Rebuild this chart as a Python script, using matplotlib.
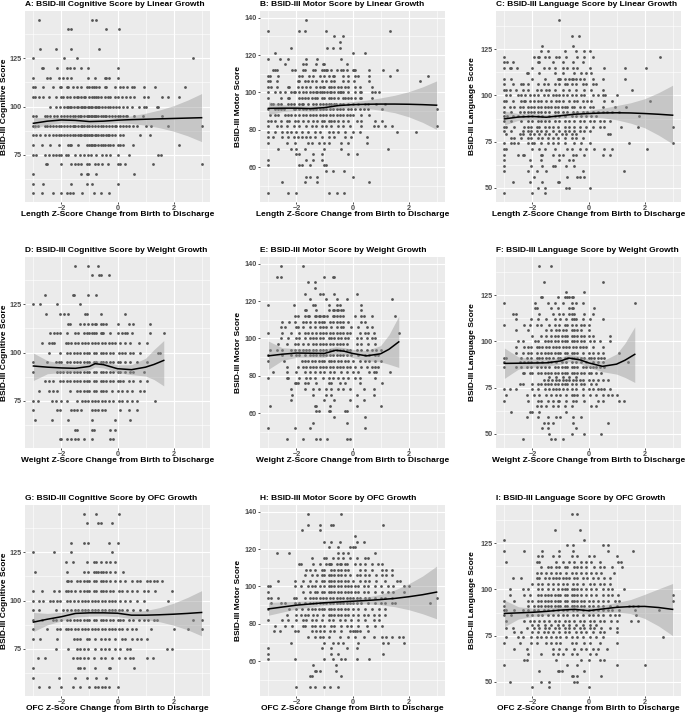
import matplotlib.pyplot as plt

plt.rcParams['font.family'] = ['Liberation Sans', 'DejaVu Sans']

# Each row list: (score, [z-score change of every child with that score])
# A: cognitive by length
A_ROWS = [
    (145, [-2.8, -0.9, -0.75]),
    (140, [-1.75, -1.65, -0.42, 0.05]),
    (130, [-2.75, -2.2, -1.65, -0.65]),
    (125, [-3.0, -1.9, -1.45, 2.7]),
    (120, [-2.7, -2.65, -2.15, -1.8, -1.7, -1.55, -1.3, -1.05, 0.0]),
    (115, [-3.0, -2.5, -2.4, -2.1, -1.95, -1.8, -1.65, -1.05, -0.8, -0.45, -0.4, -0.3, 0.0]),
    (110, [-3.0, -2.95, -2.65, -2.3, -2.05, -2.0, -1.8, -1.75, -1.6, -1.45, -1.3, -1.1, -1.0, -0.9,
           -0.85, -0.75, -0.65, -0.45, -0.4, -0.1, 0.1, 0.2, 0.35, 0.5, 0.6, 0.95, 1.35, 2.4]),
    (105, [-3.0, -2.95, -2.8, -2.65, -2.45, -2.2, -2.0, -1.95, -1.8, -1.7, -1.55, -1.45, -1.4, -1.3,
           -1.2, -1.15, -1.0, -0.9, -0.85, -0.75, -0.7, -0.6, -0.45, -0.35, -0.25, -0.1, 0.0, 0.15,
           0.3, 0.45, 0.6, 0.95, 1.1, 1.6, 1.8, 2.2]),
    (100, [-2.4, -2.2, -2.05, -1.9, -1.8, -1.75, -1.7, -1.65, -1.55, -1.45, -1.4, -1.3, -1.25, -1.2,
           -1.15, -1.05, -1.0, -0.95, -0.9, -0.8, -0.75, -0.7, -0.65, -0.55, -0.45, -0.35, -0.25,
           -0.15, -0.05, 0.05, 0.2, 0.35, 0.5, 0.75, 0.95, 1.0, 1.4, 1.45]),
    (95, [-3.0, -2.9, -2.6, -2.5, -2.4, -2.25, -2.15, -2.0, -1.9, -1.8, -1.7, -1.6, -1.5, -1.4, -1.35,
          -1.3, -1.2, -1.1, -1.05, -1.0, -0.95, -0.9, -0.85, -0.8, -0.75, -0.7, -0.6, -0.5, -0.45,
          -0.4, -0.3, -0.2, -0.1, 0.0, 0.1, 0.2, 0.3, 0.35, 0.6, 0.9, 1.6]),
    (90, [-3.0, -2.95, -2.85, -2.6, -2.5, -2.4, -2.3, -2.2, -2.1, -2.0, -1.9, -1.8, -1.7, -1.6, -1.55,
          -1.5, -1.4, -1.3, -1.25, -1.2, -1.1, -1.0, -0.9, -0.8, -0.7, -0.6, -0.5, -0.4, -0.3, -0.2,
          -0.1, -0.05, 0.1, 0.2, 0.3, 0.4, 0.55, 0.7, 1.0, 1.2, 1.8, 3.0]),
    (85, [-3.0, -2.9, -2.75, -2.6, -2.45, -2.3, -2.2, -2.1, -2.0, -1.9, -1.8, -1.7, -1.6, -1.5, -1.4,
          -1.35, -1.3, -1.2, -1.15, -1.1, -1.0, -0.95, -0.9, -0.8, -0.75, -0.7, -0.6, -0.5, -0.4,
          -0.35, -0.3, -0.2, -0.1, 0.1, 0.2, 0.8, 1.15]),
    (80, [-3.0, -2.7, -2.4, -2.1, -1.75, -1.7, -1.65, -1.4, -1.1, -1.0, -0.95, -0.9, -0.85, -0.8, -0.7,
          -0.6, -0.5, -0.45, -0.35, -0.25, -0.15, 0.0, 0.1, 0.2, 0.55, 2.2]),
    (75, [-3.0, -2.9, -2.6, -2.45, -2.3, -2.2, -2.1, -2.0, -1.85, -1.75, -1.5, -1.35, -1.2, -1.05,
          -0.95, -0.75, -0.55, -0.4, -0.25, 0.0, 0.4, 1.45, 1.55]),
    (70, [-2.55, -2.5, -2.0, -1.65, -1.5, -1.4, -1.3, -1.1, -1.0, -0.8, -0.7, -0.55, -0.35, 0.0, 0.1,
          0.25, 1.25, 3.0]),
    (65, [-3.0, -1.3, -1.1, -1.05, -0.75, 0.6]),
    (60, [-3.0, -2.65, -1.65, -1.1, -0.9, 0.0]),
    (55, [-3.0, -2.7, -2.3, -2.0, -1.8, -1.7, -1.6, -1.25, -0.85, -0.6, -0.3]),
]
A_FIT_X = [-3, -2.5, -2, -1.5, -1, -0.5, 0, 0.5, 1, 1.5, 2, 2.5, 3]
A_FIT = [91.3, 92.4, 93.0, 92.8, 92.2, 92.4, 92.9, 93.2, 93.4, 93.6, 93.8, 94.0, 94.2]
A_LO = [88.5, 90.6, 91.5, 91.3, 90.8, 91.1, 91.5, 91.2, 90.3, 89.0, 87.2, 84.8, 81.8]
A_HI = [94.2, 94.2, 94.5, 94.3, 93.6, 93.7, 94.3, 95.2, 96.5, 98.2, 100.4, 103.3, 106.7]

# B: motor by length
B_ROWS = [
    (139, [-1.65]),
    (133, [-3.0, -1.9, -1.7, -0.95, 1.35]),
    (130, [-0.65, -0.35]),
    (127, [-0.45]),
    (124, [-2.2, -0.9, -0.7, -0.45]),
    (121, [-2.75, 0.0, 0.45]),
    (118, [-3.0, -2.6, -2.3, -1.65, -1.25, -0.4]),
    (115, [-2.4, -1.75, -1.65, -1.3, -1.05, -1.0, -0.2]),
    (112, [-2.85, -2.75, -2.7, -2.15, -2.05, -1.75, -1.7, -1.4, -1.35, -1.1, -1.0, -0.95, -0.9,
           -0.75, -0.55, -0.4, -0.35, -0.2, 0.0, 0.05, 0.1, 0.6, 1.1, 1.6]),
    (109, [-3.0, -2.95, -2.65, -1.9, -1.8, -1.55, -1.4, -1.15, -1.0, -0.85, -0.7, -0.65, -0.35,
           -0.15, 0.1, 0.2, 0.6, 1.35, 2.7]),
    (106, [-3.0, -2.95, -2.7, -1.95, -1.9, -1.7, -1.6, -1.45, -1.3, -1.1, -0.95, -0.75, -0.65,
           -0.35, -0.15, 0.05, 0.6, 2.4]),
    (103, [-3.0, -2.9, -2.7, -2.3, -2.25, -1.95, -1.8, -1.65, -1.5, -1.3, -1.15, -1.05, -1.0, -0.85,
           -0.75, -0.65, -0.5, -0.4, -0.25, -0.15, 0.1, 0.25, 0.7]),
    (100, [-3.0, -2.75, -2.6, -2.4, -2.2, -2.1, -2.05, -1.9, -1.75, -1.65, -1.5, -1.4, -1.3, -1.25,
           -1.15, -1.1, -1.0, -0.9, -0.8, -0.75, -0.65, -0.5, -0.45, -0.4, -0.35, -0.15, 0.1, 0.25,
           0.3, 0.7, 0.8, 0.95]),
    (97, [-3.0, -2.55, -2.3, -2.25, -1.9, -1.8, -1.7, -1.6, -1.45, -1.35, -1.25, -1.1, -1.0, -0.85,
          -0.75, -0.65, -0.5, -0.35, -0.25, -0.15, -0.05, 0.1, 0.25, 0.3, 0.7]),
    (94, [-2.9, -2.85, -2.65, -2.55, -2.3, -2.2, -2.1, -1.9, -1.8, -1.75, -1.6, -1.4, -1.3, -1.15,
          -1.05, -0.95, -0.85, -0.75, -0.65, -0.6, -0.45, -0.35, -0.15, 0.0, 0.2, 0.45, 0.55, 0.85,
          1.15]),
    (91, [-3.0, -2.75, -2.65, -2.55, -2.45, -2.1, -2.05, -1.9, -1.75, -1.65, -1.5, -1.4, -1.3, -1.15,
          -1.05, -0.95, -0.8, -0.7, -0.55, -0.45, -0.35, -0.15, -0.05, 0.1, 0.25, 0.4, 0.55, 1.05,
          3.0]),
    (88, [-2.95, -2.75, -2.65, -2.4, -2.3, -2.2, -2.05, -1.9, -1.75, -1.65, -1.5, -1.4, -1.3, -1.15,
          -1.05, -0.95, -0.8, -0.7, -0.55, -0.45, -0.35, -0.2, -0.1, 0.0, 0.3, 0.6]),
    (85, [-3.0, -2.9, -2.75, -2.55, -2.35, -2.25, -2.05, -1.95, -1.75, -1.6, -1.4, -1.25, -1.1, -1.0,
          -0.85, -0.75, -0.65, -0.5, -0.35, -0.15, 0.15, 0.3, 0.8, 1.05]),
    (82, [-3.0, -2.7, -2.55, -2.35, -2.1, -1.9, -1.65, -1.45, -1.3, -1.1, -0.95, -0.75, -0.5, -0.35,
          -0.1, 0.3, 0.75, 0.9, 1.15, 1.4, 3.0]),
    (79, [-3.0, -2.75, -2.5, -2.35, -2.2, -2.0, -1.8, -1.6, -1.35, -1.15, -0.85, -0.7, -0.5, -0.25,
          0.0, 0.25, 1.6, 2.25]),
    (76, [-3.0, -2.85, -2.5, -2.3, -2.1, -1.95, -1.8, -1.65, -1.5, -1.35, -1.1, -0.85, -0.65, -0.25,
          -0.05, 0.5]),
    (73, [-3.0, -2.35, -2.05, -1.6, -1.45, -1.2, -1.0, -0.85, -0.4, -0.15, 0.5]),
    (70, [-2.65, -2.2, -2.0, -1.7, -1.0, -0.4, 1.25]),
    (67, [-2.0, -1.9, -1.4, -1.1, -0.15, 0.15]),
    (64, [-3.0, -1.65, -1.4, -1.1]),
    (61, [-3.0, -1.9, -1.8, -1.5, -1.0, -0.95]),
    (58, [-0.95, -0.7, -0.3]),
    (55, [-1.65, -1.5, -1.25, 0.0]),
    (52, [-2.5, -1.7, -1.25, 0.6]),
    (46, [-3.0, -2.3, -2.0, -0.85, -0.55, -0.3]),
]
B_FIT_X = [-3, -2.5, -2, -1.5, -1, -0.5, 0, 0.5, 1, 1.5, 2, 2.5, 3]
B_FIT = [91.5, 91.6, 91.6, 91.4, 91.9, 93.0, 93.5, 93.7, 93.8, 93.8, 93.7, 93.5, 93.2]
B_LO = [88.0, 89.8, 90.2, 90.0, 90.3, 91.5, 91.9, 91.5, 90.5, 89.2, 87.0, 84.0, 80.2]
B_HI = [95.0, 93.5, 93.0, 92.8, 93.5, 94.5, 95.1, 95.9, 97.1, 98.5, 100.4, 103.0, 106.2]

# C: language by length
C_ROWS = [
    (141, [-1.05]),
    (132, [-0.6, -0.35]),
    (127, [-1.65, -0.55]),
    (124, [-1.7, -1.45, -0.85, -0.45, -0.15, 0.05]),
    (121, [-3.0, -1.95, -1.8, -1.75, -1.55, -1.4, -1.15, -1.05, -0.8, -0.4, -0.15, 0.15, 2.55]),
    (118, [-3.0, -2.9, -2.7, -1.8, -1.75, -1.25, -0.9, -0.55, -0.2]),
    (115, [-3.0, -2.8, -2.75, -2.55, -2.0, -1.6, -1.4, -1.2, -0.9, -0.75, -0.55, -0.4, 0.05, 0.55,
           1.3, 2.05]),
    (112, [-2.2, -2.15, -1.75, -1.2, -0.9, -0.5, -0.25, -0.1, 0.1]),
    (109, [-3.0, -2.75, -2.0, -1.55, -1.1, -1.05, -1.0, -0.85, -0.7, -0.6, -0.55, -0.45, -0.3,
           -0.15, 0.15, 0.5, 1.3]),
    (106, [-3.0, -2.7, -2.4, -2.35, -2.15, -1.8, -1.6, -1.45, -1.2, -1.05, -0.85, -0.75, -0.6,
           -0.45, -0.2, -0.1, 0.15, 0.25]),
    (103, [-3.0, -2.95, -2.8, -2.6, -2.35, -2.15, -1.85, -1.7, -1.5, -1.4, -1.2, -0.9, -0.7, -0.45,
           -0.15, 0.1, 0.5, 1.55]),
    (100, [-2.95, -2.8, -2.5, -2.4, -2.25, -2.1, -1.95, -1.8, -1.6, -1.45, -1.25, -1.15, -1.05,
           -0.9, -0.75, -0.6, -0.45, -0.25, -0.15, 0.15, 0.35, 0.5, 0.6, 1.0]),
    (97, [-3.0, -2.95, -2.7, -2.4, -2.3, -2.25, -2.1, -1.95, -1.8, -1.7, -1.5, -1.35, -1.15, -1.05,
          -0.9, -0.7, -0.5, -0.4, -0.2, -0.05, 0.1, 0.55, 0.85, 2.2]),
    (94, [-3.0, -2.8, -2.65, -2.45, -2.35, -2.15, -2.05, -1.95, -1.8, -1.7, -1.55, -1.45, -1.35,
          -1.2, -1.1, -0.95, -0.85, -0.75, -0.6, -0.5, -0.3, -0.15, 0.05, 0.15, 0.5, 0.95, 1.35]),
    (91, [-3.0, -2.75, -2.45, -2.3, -2.15, -2.05, -1.95, -1.8, -1.7, -1.55, -1.4, -1.2, -1.1, -0.9,
          -0.75, -0.55, -0.4, -0.2, -0.05, 0.15, 0.35, 0.5, 0.65, 0.85, 1.1]),
    (89, [-3.0, -2.9, -2.7, -2.5, -2.35, -2.15, -2.0, -1.8, -1.65, -1.4, -1.2, -1.05, -0.85, -0.6,
          -0.45, -0.25, -0.1, 0.1, 0.25, 1.8]),
    (86, [-3.0, -2.75, -2.4, -2.15, -2.0, -1.8, -1.7, -1.55, -1.4, -1.2, -1.05, -0.85, -0.7, -0.5,
          -0.3, -0.15, 0.05, 0.2, 0.4, 0.55, 0.75]),
    (83, [-3.0, -2.95, -2.65, -2.3, -2.15, -2.05, -1.85, -1.75, -1.55, -1.4, -1.25, -1.1, -0.85,
          -0.7, -0.5, -0.3, -0.1, 0.15, 0.4, 0.55, 1.15, 1.75, 3.0]),
    (81, [-3.0, -2.75, -2.35, -2.15, -2.05, -1.85, -1.7, -1.5, -1.25, -1.05, -0.85, -0.7, -0.5,
          -0.3, -0.15, 0.05]),
    (79, [-2.95, -2.45, -2.35, -2.1, -1.95, -1.75, -1.55, -1.4, -1.15, -0.95, -0.8, -0.6, -0.45,
          0.7, 0.75]),
    (77, [-2.75, -2.65, -2.4, -2.15, -2.05, -1.8, -1.65, -1.45, -1.25, -1.1, -0.85, -0.6, -0.45,
          -0.2]),
    (74, [-3.0, -2.75, -2.65, -2.5, -2.15, -2.0, -1.95, -1.7, -1.45, -1.25, -1.1, -0.85, -0.5,
          -0.25, 0.05, 1.45, 3.0]),
    (71, [-3.0, -2.95, -2.0, -1.75, -1.55, -1.2, -0.75, -0.6, -0.3, -0.1, 0.2, 0.55, 0.85, 2.1]),
    (68, [-3.0, -2.5, -2.35, -2.3, -1.7, -1.65, -1.25, -1.05, -0.9, -0.55, -0.45, -0.15, 0.5, 0.75]),
    (65, [-3.0, -2.1, -1.7, -1.05, -0.7, -0.55]),
    (62, [-3.0, -2.05, -1.65, -1.25, -1.2, -0.8, -0.5]),
    (59, [-3.0, -2.15, -1.85, -1.5, -0.2, 1.25]),
    (56, [-1.95, -0.75, -0.4, -0.3, -0.15]),
    (53, [-2.7, -2.1, -1.65, -1.1, -1.05]),
    (50, [-1.8, -1.55, -0.8, -0.7, 0.05]),
    (47, [-3.0, -2.0, -1.55]),
]
C_FIT_X = [-3, -2.5, -2, -1.5, -1, -0.5, 0, 0.5, 1, 1.5, 2, 2.5, 3]
C_FIT = [87.3, 88.3, 88.6, 88.2, 89.0, 89.8, 90.2, 90.5, 90.6, 90.5, 90.2, 89.8, 89.3]
C_LO = [84.0, 86.5, 87.0, 86.7, 87.6, 88.3, 88.4, 87.9, 86.8, 85.0, 82.5, 78.5, 73.8]
C_HI = [91.5, 90.2, 90.3, 89.7, 90.5, 91.3, 92.0, 93.0, 94.5, 96.0, 98.2, 101.5, 105.5]

# D: cognitive by weight
D_ROWS = [
    (145, [-1.5, -1.05, -0.7]),
    (140, [-0.9, -0.65, -0.6, -0.3]),
    (130, [-2.6, -1.6, -1.55, -1.05, -0.75]),
    (125, [-3.0, -2.75, -2.15, -1.35]),
    (120, [-2.55, -2.05, -1.9, -1.75, -1.15, -1.1, -0.6, 0.25]),
    (115, [-1.75, -1.7, -1.35, -1.2, -1.05, -0.9, -0.8, -0.75, -0.6, -0.5, -0.4, 0.0, 0.4, 0.55,
           1.15]),
    (110, [-2.4, -2.25, -2.15, -2.05, -1.8, -1.5, -1.4, -1.2, -1.1, -1.0, -0.9, -0.85, -0.75, -0.6,
           -0.55, -0.5, -0.25, 0.0, 0.15, 0.25, 0.35, 0.5, 1.15, 1.65]),
    (105, [-2.7, -2.45, -2.35, -2.25, -1.85, -1.75, -1.65, -1.5, -1.4, -1.25, -1.15, -1.05, -0.9,
           -0.8, -0.7, -0.55, -0.45, -0.3, -0.2, -0.1, 0.1, 0.25, 0.45, 0.75, 1.05]),
    (100, [-2.45, -2.05, -1.8, -1.7, -1.55, -1.45, -1.35, -1.2, -1.1, -1.0, -0.85, -0.75, -0.6,
           -0.5, -0.4, -0.25, -0.15, 0.05, 0.15, 0.25, 0.45, 0.55, 0.8, 1.45, 1.5]),
    (95, [-3.0, -2.5, -2.2, -2.1, -2.0, -1.8, -1.7, -1.55, -1.45, -1.35, -1.2, -1.1, -1.0, -0.85,
          -0.75, -0.6, -0.5, -0.4, -0.25, -0.15, 0.0, 0.1, 0.25, 0.45, 0.7, 1.05]),
    (90, [-3.0, -2.15, -2.05, -1.95, -1.8, -1.7, -1.55, -1.45, -1.35, -1.2, -1.1, -1.0, -0.85,
          -0.75, -0.6, -0.5, -0.4, -0.25, -0.15, 0.0, 0.1, 0.25, 0.45, 0.55, 0.95]),
    (85, [-2.6, -2.45, -2.3, -2.05, -1.95, -1.8, -1.7, -1.55, -1.45, -1.35, -1.2, -1.1, -1.0, -0.85,
          -0.75, -0.6, -0.5, -0.4, -0.25, -0.15, 0.0, 0.1, 0.2, 0.4, 0.55, 0.8, 1.05]),
    (80, [-2.8, -2.45, -2.3, -2.15, -1.7, -1.45, -1.35, -1.2, -1.1, -1.0, -0.85, -0.75, -0.6, -0.5,
          -0.4, -0.2, 0.0, 0.15, 0.35, 0.5, 0.8, 0.95]),
    (75, [-3.0, -2.85, -2.35, -2.2, -2.0, -1.8, -1.45, -1.25, -1.15, -1.05, -0.9, -0.8, -0.7, -0.55,
          -0.45, -0.3, -0.15, 0.05, 0.15, 0.35, 0.5, 0.7, 1.35]),
    (70, [-3.0, -2.15, -2.05, -1.65, -1.55, -1.45, -1.3, -0.9, -0.8, -0.7, -0.55, -0.45, 0.1, 0.4,
          0.7]),
    (65, [-2.95, -2.35, -1.75, -0.9, -0.1, 0.45]),
    (60, [-1.5, -1.45, -0.9, -0.85, -0.25, -0.1]),
    (55, [-2.05, -2.0, -1.8, -1.65, -1.5, -1.4, -1.2, -0.9, -0.25, -0.15]),
]
D_FIT_X = [-3, -2.5, -2, -1.5, -1.0, -0.8, -0.5, 0, 0.5, 1.0, 1.3, 1.65]
D_FIT = [93.0, 92.4, 92.0, 91.8, 92.8, 94.2, 93.7, 91.6, 91.1, 92.4, 93.8, 95.9]
D_LO = [85.5, 89.0, 89.6, 89.9, 91.0, 92.5, 92.0, 89.6, 88.5, 87.8, 86.0, 82.7]
D_HI = [99.7, 95.8, 94.4, 93.7, 94.6, 96.0, 95.4, 93.6, 93.7, 97.0, 101.5, 106.2]

# E: motor by weight
E_ROWS = [
    (139, [-2.55, -1.75]),
    (133, [-2.7, -2.55, -1.0, -0.7, -0.65]),
    (130, [-1.6, -1.35]),
    (127, [-1.35]),
    (124, [-1.7, -1.15, -1.05, -0.65, 0.15]),
    (121, [-1.5, -0.95, -0.55, -0.2, 1.4]),
    (118, [-3.0, -2.1, -1.4, -1.35, -0.85, -0.55, -0.45, 0.3]),
    (115, [-1.7, -1.65, -1.3, -0.85, -0.7, -0.65, -0.55, -0.5, -0.4, -0.35, 0.3]),
    (112, [-2.05, -1.95, -1.7, -1.6, -1.55, -1.35, -1.3, -1.2, -1.15, -1.05, -1.0, -0.9, -0.7,
           -0.65, -0.55, -0.45, -0.35, 0.1, 0.3, 0.4, 0.7, 1.5]),
    (109, [-2.5, -2.25, -2.05, -1.75, -1.65, -1.5, -1.35, -1.2, -1.1, -1.0, -0.8, -0.7, -0.55,
           -0.45, -0.35, -0.15, 0.3, 0.45]),
    (106, [-2.55, -2.4, -2.0, -1.95, -1.75, -1.5, -1.35, -1.15, -1.05, -0.95, -0.75, -0.55, -0.4,
           -0.35, -0.05, 0.2, 0.5, 0.7]),
    (103, [-3.0, -2.5, -2.2, -1.9, -1.7, -1.6, -1.45, -1.3, -1.15, -1.05, -0.95, -0.8, -0.7, -0.55,
           -0.45, -0.35, -0.2, -0.1, 0.25, 0.45, 0.55, 0.75, 1.65]),
    (100, [-2.55, -2.3, -2.0, -1.9, -1.7, -1.5, -1.4, -1.3, -1.15, -1.05, -0.85, -0.75, -0.65, -0.5,
           -0.4, -0.25, -0.15, 0.15, 0.3, 0.5, 0.7, 0.8]),
    (97, [-2.65, -2.35, -2.05, -1.95, -1.75, -1.6, -1.4, -1.3, -1.15, -1.05, -0.95, -0.8, -0.7,
          -0.55, -0.45, -0.35, -0.2, 0.15, 0.3, 0.55, 0.8]),
    (94, [-2.95, -2.7, -2.5, -2.2, -2.05, -1.9, -1.75, -1.65, -1.55, -1.4, -1.3, -1.15, -1.05, -0.95,
          -0.8, -0.7, -0.55, -0.45, -0.35, -0.2, -0.1, 0.15, 0.3, 0.5, 0.7, 0.85, 1.0]),
    (91, [-3.0, -2.5, -2.2, -2.0, -1.9, -1.7, -1.5, -1.4, -1.3, -1.15, -1.05, -0.95, -0.8, -0.7,
          -0.55, -0.45, -0.35, -0.2, -0.05, 0.2, 0.45, 0.6, 0.8, 0.9]),
    (88, [-3.0, -2.45, -1.8, -1.7, -1.6, -1.45, -1.35, -1.2, -1.1, -1.0, -0.85, -0.75, -0.65, -0.5,
          -0.4, -0.25, -0.15, 0.0, 0.25, 0.45, 0.6, 0.8, 1.0]),
    (85, [-2.35, -1.95, -1.75, -1.65, -1.5, -1.4, -1.3, -1.15, -1.05, -0.95, -0.8, -0.7, -0.55,
          -0.45, -0.35, -0.2, -0.1, 0.1, 0.3, 0.5, 0.7, 0.8, 0.9]),
    (82, [-2.85, -2.35, -2.0, -1.7, -1.5, -1.35, -1.15, -1.0, -0.8, -0.65, -0.4, -0.2, 0.0, 0.2,
          0.6, 0.75, 0.85, 1.35]),
    (79, [-3.0, -2.35, -2.3, -1.9, -1.65, -1.5, -1.35, -1.05, -0.85, -0.7, -0.5, -0.35, -0.15, 0.1,
          0.25, 0.8]),
    (76, [-2.05, -2.0, -1.95, -1.7, -1.6, -1.3, -0.85, -0.75, -0.45, -0.25, 0.25, 1.05]),
    (73, [-2.2, -1.7, -1.4, -1.2, -0.95, -0.75, -0.5, -0.35, -0.1, 0.4, 0.75]),
    (70, [-2.15, -1.4, -0.95, -0.75, 0.15, 0.75]),
    (67, [-2.2, -1.0, -0.65, -0.1, 0.4]),
    (64, [-2.95, -1.35, -1.3, -0.8, 0.15, 1.0]),
    (61, [-1.3, -1.2, -0.85, -0.8, -0.25, -0.2]),
    (58, [-0.65, 0.45]),
    (55, [-1.4, -0.2]),
    (52, [-3.0, -2.05, -1.5, 0.45]),
    (46, [-2.35, -1.75, -1.3, -1.15, -0.9, -0.2, -0.1]),
]
E_FIT_X = [-3, -2.5, -2, -1.5, -1.0, -0.6, -0.3, 0, 0.5, 1.0, 1.3, 1.65]
E_FIT = [90.7, 91.6, 92.2, 92.1, 92.0, 93.7, 93.2, 92.0, 90.7, 91.8, 94.2, 98.2]
E_LO = [83.5, 88.3, 89.9, 90.0, 89.9, 91.8, 91.3, 89.8, 88.0, 87.5, 86.2, 84.5]
E_HI = [98.6, 95.0, 94.6, 94.3, 94.2, 95.6, 95.1, 94.2, 93.5, 96.2, 102.0, 111.9]

# F: language by weight
F_ROWS = [
    (141, [-1.75, -1.35]),
    (132, [-1.6, 0.5]),
    (127, [-0.8, -0.15]),
    (124, [-1.7, -1.65, -1.1, -0.85, -0.75, -0.7, -0.6, -0.55]),
    (121, [-3.0, -1.9, -1.45, -1.2, -0.9, -0.6, -0.45, -0.2, 1.65]),
    (118, [-1.9, -1.85, -1.35, -1.1, -0.7, -0.6, -0.55, 0.2]),
    (115, [-2.7, -2.6, -1.75, -1.25, -1.05, -0.9, -0.7, -0.6, -0.5, -0.15, 0.15]),
    (112, [-2.6, -2.05, -1.8, -1.5, -1.2, -1.0, -0.8, -0.6, -0.5, -0.45, -0.2, 0.05, 0.5]),
    (109, [-3.0, -2.3, -2.1, -1.85, -1.7, -1.4, -1.2, -1.05, -0.85, -0.75, -0.6, -0.45, -0.25,
           -0.15, 0.0]),
    (106, [-2.6, -2.15, -1.5, -1.35, -1.15, -1.05, -0.9, -0.8, -0.6, -0.5, -0.4, -0.25, 0.0]),
    (103, [-2.0, -1.7, -1.5, -1.35, -1.2, -1.1, -0.95, -0.85, -0.75, -0.6, -0.5, -0.4, -0.25, -0.15,
           0.0, 0.15, 0.75]),
    (100, [-2.5, -2.35, -1.9, -1.8, -1.55, -1.45, -1.35, -1.2, -1.1, -0.95, -0.85, -0.75, -0.6,
           -0.5, -0.4, -0.25, -0.15, 0.05, 0.2, 0.4, 0.75]),
    (97, [-2.6, -2.3, -2.15, -2.05, -1.85, -1.75, -1.65, -1.5, -1.4, -1.25, -1.15, -1.05, -0.9,
          -0.8, -0.7, -0.55, -0.45, -0.3, -0.2, -0.1, 0.15, 0.5]),
    (94, [-2.6, -2.35, -2.15, -2.05, -1.85, -1.7, -1.55, -1.45, -1.35, -1.2, -1.1, -1.0, -0.85,
          -0.75, -0.6, -0.5, -0.4, -0.2, 0.0, 0.15, 0.35, 0.5, 1.1]),
    (91, [-3.0, -2.95, -2.4, -2.2, -2.05, -1.85, -1.75, -1.65, -1.5, -1.4, -1.25, -1.1, -1.0, -0.85,
          -0.75, -0.6, -0.5, -0.4, -0.25, -0.15, 0.0, 0.1, 0.2, 0.35, 0.45, 0.55]),
    (89, [-3.0, -2.45, -2.3, -2.15, -2.05, -1.85, -1.65, -1.45, -1.35, -1.15, -0.95, -0.8, -0.6,
          -0.45, -0.25, -0.1, 0.15, 0.35, 0.5, 1.4]),
    (86, [-3.0, -2.6, -2.4, -2.2, -2.05, -1.85, -1.7, -1.55, -1.4, -1.2, -1.1, -0.95, -0.85, -0.75,
          -0.6, -0.5, -0.4, -0.2, -0.1, 0.05, 0.15, 0.25, 0.4, 0.55]),
    (83, [-2.35, -2.3, -2.1, -2.0, -1.8, -1.7, -1.55, -1.45, -1.35, -1.2, -1.1, -0.95, -0.85, -0.75,
          -0.6, -0.5, -0.4, -0.25, -0.15, 0.0, 0.1, 0.25, 0.45]),
    (81, [-1.4, -1.15, -0.9, -0.7, -0.45]),
    (79, [-1.6, -1.45, -1.3, -1.15, -1.05, -0.9, -0.8, -0.7, -0.55, -0.45, -0.3, -0.2, 0.0, 0.15,
          0.35, 0.5, 0.7]),
    (77, [-2.45, -2.35, -2.0, -1.8, -1.7, -1.55, -1.45, -1.35, -1.2, -1.1, -0.95, -0.85, -0.75,
          -0.6, -0.45, -0.25, -0.15, 0.1, 0.25]),
    (74, [-3.0, -2.8, -2.6, -2.0, -1.8, -1.55, -1.4, -1.25, -1.15, -1.05, -0.9, -0.75, -0.6, -0.45,
          -0.2, 0.0, 0.15, 0.35, 0.45, 0.55, 0.75]),
    (71, [-2.95, -2.2, -1.95, -1.75, -1.5, -1.35, -1.15, -1.0, -0.8, -0.6, -0.5, -0.4, -0.2, 0.05,
          0.25, 0.5, 0.7, 0.85, 1.0]),
    (68, [-3.0, -2.15, -1.8, -1.7, -1.45, -1.25, -1.1, -1.05, -0.8, -0.55, -0.45, -0.15, 0.35, 0.5,
          1.1, 1.25]),
    (65, [-1.85, -1.7, -1.5, -1.25, -1.1, -0.85, -0.6, 0.1, 0.25]),
    (62, [-2.75, -2.1, -2.0, -1.75, -0.8]),
    (59, [-2.2, -1.8, -1.45, -1.15, -1.0, -0.55, -0.25]),
    (56, [-1.6, -1.45, -1.25, -0.55, 0.7]),
    (53, [-1.65, -1.45, -0.45]),
    (50, [-1.4, -0.6, -0.15, 0.45]),
    (47, [-2.35, -1.35, -1.2, -0.9]),
]
F_FIT_X = [-3, -2.5, -2, -1.5, -1.0, -0.7, -0.3, 0, 0.5, 1.0, 1.3, 1.65]
F_FIT = [88.1, 88.2, 88.3, 88.4, 89.4, 91.0, 90.0, 88.4, 86.5, 87.7, 89.8, 93.0]
F_LO = [80.0, 85.0, 86.0, 86.6, 87.6, 89.0, 88.0, 86.0, 83.6, 82.3, 80.5, 77.8]
F_HI = [96.4, 91.6, 90.6, 90.3, 91.3, 93.1, 92.0, 90.6, 89.4, 93.2, 99.0, 107.9]

# G: cognitive by OFC
G_ROWS = [
    (145, [-1.2, -0.75, 0.05]),
    (140, [-1.1, -0.7, -0.6, -0.2]),
    (130, [-1.65, -1.2, -1.05, -0.3, 0.0]),
    (125, [-3.0, -2.25, -1.65, -0.2]),
    (120, [-1.85, -1.6, -1.1, -0.85, -0.75, -0.6, -0.4, -0.25, -0.1]),
    (115, [-2.95, -1.8, -1.2, -1.05, -0.85, -0.75, -0.7, -0.6, -0.5, -0.4, -0.25, -0.1, 0.2]),
    (110, [-1.8, -1.75, -1.65, -1.45, -1.35, -1.2, -1.1, -1.0, -0.85, -0.75, -0.6, -0.5, -0.4,
           -0.25, -0.1, 0.1, 0.25, 0.5, 0.7, 0.8, 1.05, 1.15, 1.3, 1.4, 1.6]),
    (105, [-3.0, -2.7, -2.25, -2.1, -1.85, -1.75, -1.65, -1.5, -1.35, -1.2, -1.1, -1.0, -0.85,
           -0.75, -0.6, -0.5, -0.4, -0.25, -0.15, 0.05, 0.15, 0.35, 0.5, 0.7, 0.95, 1.1, 1.35, 1.95]),
    (100, [-3.0, -2.8, -2.65, -2.4, -2.3, -2.15, -2.05, -1.8, -1.7, -1.55, -1.4, -1.25, -1.15,
           -1.05, -0.9, -0.8, -0.7, -0.55, -0.45, -0.3, -0.2, -0.1, 0.1, 0.25, 0.45, 0.7, 0.95, 1.8]),
    (95, [-3.0, -2.8, -2.2, -1.95, -1.8, -1.65, -1.5, -1.4, -1.25, -1.15, -1.05, -0.9, -0.8, -0.7,
          -0.55, -0.45, -0.3, -0.2, -0.1, 0.05, 0.15, 0.35, 0.55, 0.8, 1.05]),
    (90, [-3.0, -2.7, -2.3, -2.2, -2.0, -1.8, -1.7, -1.55, -1.45, -1.35, -1.2, -1.1, -1.0, -0.85,
          -0.75, -0.6, -0.5, -0.4, -0.25, -0.15, 0.0, 0.1, 0.2, 0.4, 0.55, 0.75, 0.95, 1.1, 1.3,
          1.4, 2.7, 3.0]),
    (85, [-3.0, -2.5, -2.15, -2.05, -1.85, -1.75, -1.65, -1.5, -1.4, -1.25, -1.15, -1.05, -0.9,
          -0.8, -0.7, -0.55, -0.45, -0.3, -0.2, -0.1, 0.05, 0.15, 0.35, 0.5, 0.65, 1.2, 2.0, 2.5,
          3.0]),
    (80, [-3.0, -2.75, -2.15, -1.55, -1.45, -1.35, -1.1, -1.0, -0.8, -0.6, -0.45, -0.3, -0.1, 0.15,
          0.25, 0.5, 0.7, 0.85, 1.05]),
    (75, [-2.2, -1.75, -1.45, -1.35, -1.2, -1.05, -0.8, -0.6, -0.45, -0.3, -0.1, 0.1, 0.35, 0.45,
          1.75, 1.95]),
    (70, [-2.85, -2.6, -1.6, -1.45, -1.35, -1.2, -1.05, -0.85, -0.6, -0.45, -0.2, 0.05, 0.25, 0.45,
          0.55, 1.05, 1.25]),
    (65, [-3.0, -1.4, -1.35, -1.2, -0.8, -0.3, -0.25, 0.6]),
    (60, [-3.0, -2.1, -1.5, -1.1, -0.75, -0.4]),
    (55, [-2.8, -2.45, -2.0, -1.6, -1.35, -1.0, -0.8, -0.7, -0.55, -0.45, -0.3, 0.0]),
]
G_FIT_X = [-3, -2.5, -2, -1.5, -1.0, -0.5, 0, 0.5, 1, 1.5, 2, 2.5, 3]
G_FIT = [88.8, 90.3, 91.6, 93.3, 93.6, 93.6, 93.4, 92.4, 92.4, 92.6, 92.9, 93.3, 93.8]
G_LO = [83.9, 87.4, 89.4, 91.4, 91.9, 92.0, 91.6, 90.6, 90.1, 89.0, 87.2, 84.8, 81.7]
G_HI = [93.8, 93.3, 93.9, 95.2, 95.3, 95.2, 95.2, 94.3, 94.8, 96.3, 98.6, 101.6, 105.1]

# H: motor by OFC
H_ROWS = [
    (139, [-1.6, -0.4]),
    (133, [-1.6, -1.15, -0.75, -0.7, 1.1]),
    (130, [-1.8, -1.15]),
    (127, [0.1]),
    (124, [-1.0, -0.75, -0.45, 0.15, 0.4]),
    (121, [-0.85, -0.5, -0.1, 0.0, 0.1]),
    (118, [-2.7, -2.25, -0.5, -0.35, -0.15, 0.8]),
    (115, [-1.45, -1.0, -0.95, -0.7, -0.5, -0.35, -0.1, 0.15, 0.45, 0.55]),
    (112, [-1.9, -1.85, -1.4, -1.15, -0.95, -0.85, -0.8, -0.75, -0.55, -0.45, -0.4, -0.25, -0.2,
           0.1, 0.25, 0.45, 0.7, 0.9, 1.05]),
    (109, [-1.65, -1.5, -1.35, -1.1, -1.0, -0.75, -0.65, -0.5, -0.4, -0.25, -0.15, 0.25, 0.45, 0.7,
           1.05, 1.2, 1.4]),
    (106, [-1.7, -1.45, -1.25, -1.1, -1.0, -0.85, -0.75, -0.65, -0.5, -0.4, -0.25, -0.1, 0.15, 0.25,
           0.45, 0.6, 0.85, 1.05, 1.2, 1.4]),
    (103, [-2.65, -2.05, -1.75, -1.5, -1.3, -1.1, -1.0, -0.85, -0.75, -0.65, -0.5, -0.4, -0.25,
           -0.15, 0.0, 0.25, 0.45, 0.6, 0.85, 1.15, 1.6, 1.7]),
    (100, [-3.0, -2.95, -2.05, -1.85, -1.6, -1.45, -1.35, -1.15, -1.0, -0.85, -0.75, -0.65, -0.5,
           -0.4, -0.25, -0.15, -0.05, 0.1, 0.2, 0.4, 0.55, 0.8, 1.0, 1.25, 1.45, 1.85, 2.0]),
    (97, [-3.0, -1.75, -1.5, -1.35, -1.25, -1.1, -1.0, -0.85, -0.75, -0.65, -0.5, -0.4, -0.25,
          -0.15, -0.05, 0.1, 0.2, 0.4, 0.55, 0.8, 1.05, 1.25, 1.45, 1.85]),
    (94, [-3.0, -2.9, -2.65, -2.1, -2.0, -1.7, -1.5, -1.4, -1.3, -1.15, -1.05, -0.95, -0.8, -0.7,
          -0.55, -0.45, -0.35, -0.2, -0.1, 0.0, 0.15, 0.25, 0.45, 0.6, 0.8, 1.0, 1.15, 1.4, 3.0]),
    (91, [-2.9, -2.55, -2.4, -2.05, -1.9, -1.7, -1.5, -1.4, -1.3, -1.15, -1.05, -0.95, -0.8, -0.7,
          -0.55, -0.45, -0.35, -0.2, -0.1, 0.0, 0.15, 0.3, 0.55, 0.8, 1.0, 1.15, 1.4, 1.5, 2.75]),
    (88, [-3.0, -2.25, -2.0, -1.8, -1.6, -1.45, -1.35, -1.2, -1.1, -1.0, -0.85, -0.75, -0.65, -0.5,
          -0.4, -0.25, -0.15, 0.0, 0.2, 0.45, 0.7, 0.95, 1.15]),
    (85, [-2.35, -2.0, -1.85, -1.7, -1.6, -1.4, -1.25, -1.05, -0.85, -0.75, -0.65, -0.5, -0.4,
          -0.25, -0.15, 0.0, 0.2, 0.4, 0.55, 0.75, 0.95, 1.15]),
    (82, [-3.0, -2.5, -2.3, -2.0, -1.75, -1.65, -1.45, -1.3, -1.1, -0.85, -0.7, -0.45, -0.25, -0.05,
          0.2, 0.45, 0.75, 0.95]),
    (79, [-2.75, -2.4, -2.15, -1.75, -1.7, -1.45, -1.35, -1.15, -1.0, -0.75, -0.65, -0.4, -0.2,
          -0.05, 0.2, 0.5, 0.8, 1.05]),
    (76, [-2.8, -2.6, -2.05, -1.95, -1.45, -1.3, -1.15, -1.0, -0.8, -0.65, -0.4, -0.1, 0.0, 0.1,
          0.15, 0.25, 0.55]),
    (73, [-1.6, -1.35, -1.15, -1.05, -0.85, -0.45, -0.15, 0.1, 0.4, 0.75, 1.05, 1.2, 1.4, 1.65,
          1.8]),
    (70, [-2.2, -1.0, -0.7, -0.5, -0.35, 0.2, 1.1, 1.25, 1.85]),
    (67, [-3.0, -1.1, -0.75, -0.2, 0.15]),
    (64, [-3.0, -0.75, -0.5, 1.1]),
    (61, [-3.0, -2.05, -1.0, -0.7, -0.4, -0.25, 0.15, 0.6]),
    (58, [-1.4, -0.6]),
    (55, [-1.35, -1.3, -1.15, -0.6]),
    (52, [-1.5, -1.45, -0.4]),
    (46, [-2.0, -1.5, -1.35, -1.0, -0.8, -0.5]),
]
H_FIT_X = [-3, -2, -1, 0, 0.5, 1, 1.5, 2, 2.5, 3]
H_FIT = [88.0, 90.0, 91.3, 92.1, 92.5, 93.0, 93.6, 94.5, 95.6, 97.0]
H_LO = [84.6, 88.0, 89.9, 90.7, 90.7, 90.2, 89.2, 87.6, 85.4, 82.7]
H_HI = [91.5, 92.0, 92.7, 93.5, 94.3, 95.8, 98.1, 101.4, 105.6, 110.9]

# I: language by OFC
I_ROWS = [
    (141, [-0.6, -0.4]),
    (132, [-1.2, -0.3]),
    (127, [-3.0, -0.15]),
    (124, [-0.75, -0.55, 0.5, 0.7]),
    (121, [-3.0, -2.3, -1.65, -1.05, -0.55, 0.7, 1.6]),
    (118, [-1.8, -1.65, -1.25, -1.05, -0.6, -0.4, 0.0, 0.2, 1.0]),
    (115, [-2.95, -1.85, -1.75, -1.15, -0.9, -0.7, -0.5, -0.25, -0.1, 0.1, 0.4, 1.05, 1.15]),
    (112, [-1.7, -1.45, -1.35, -1.15, -1.05, -0.85, -0.75, -0.5, -0.4, -0.25, -0.1, 0.2, 0.4, 0.55,
           0.85, 1.2]),
    (109, [-1.85, -1.7, -1.5, -1.35, -1.15, -1.0, -0.8, -0.6, -0.45, -0.25, -0.1, 0.1, 0.25, 0.45,
           0.9]),
    (106, [-2.7, -2.4, -1.85, -1.75, -1.55, -1.4, -1.25, -1.15, -1.05, -0.9, -0.8, -0.7, -0.5, -0.4,
           -0.2, -0.05, 0.15, 0.35, 0.55, 0.75]),
    (103, [-2.0, -1.8, -1.65, -1.45, -1.25, -1.1, -0.9, -0.75, -0.55, -0.4, -0.2, 0.05, 0.2, 0.4,
           0.55, 0.75]),
    (100, [-2.8, -2.35, -2.15, -1.8, -1.65, -1.45, -1.25, -1.1, -0.95, -0.85, -0.75, -0.6, -0.5,
           -0.4, -0.25, -0.1, 0.1, 0.25, 0.5, 0.7, 0.85, 1.25]),
    (97, [-2.8, -2.3, -2.1, -1.8, -1.7, -1.55, -1.45, -1.35, -1.2, -1.1, -1.0, -0.85, -0.75, -0.6,
          -0.5, -0.4, -0.25, -0.1, 0.1, 0.25, 0.5, 0.7, 0.85, 1.05, 3.0]),
    (94, [-3.0, -2.65, -2.15, -2.0, -1.8, -1.7, -1.55, -1.45, -1.35, -1.2, -1.1, -1.0, -0.85, -0.75,
          -0.6, -0.5, -0.4, -0.25, -0.15, 0.0, 0.15, 0.35, 0.5, 0.7, 0.95, 1.1, 3.0]),
    (91, [-3.0, -2.15, -1.95, -1.8, -1.7, -1.55, -1.45, -1.35, -1.2, -1.1, -1.0, -0.85, -0.75, -0.6,
          -0.5, -0.4, -0.25, -0.15, 0.0, 0.15, 0.35, 0.5, 0.75, 1.0, 1.45, 1.6, 1.75]),
    (89, [-3.0, -2.95, -2.65, -2.35, -2.15, -1.95, -1.8, -1.6, -1.45, -1.25, -1.1, -0.9, -0.75,
          -0.55, -0.4, -0.2, 0.0, 0.15, 0.35, 0.5, 0.7, 0.85, 1.1, 1.65, 2.5]),
    (86, [-3.0, -2.75, -2.2, -2.0, -1.8, -1.65, -1.45, -1.25, -1.1, -0.9, -0.75, -0.55, -0.4, -0.2,
          0.0, 0.15, 0.35, 0.5, 0.75, 0.95, 1.1, 1.7]),
    (83, [-2.95, -2.3, -2.1, -1.95, -1.75, -1.6, -1.4, -1.2, -1.05, -0.85, -0.7, -0.5, -0.3, -0.15,
          0.05, 0.2, 0.4, 0.55, 0.8, 1.0, 1.5, 1.75]),
    (81, [-2.0, -1.8, -1.55, -1.35, -1.1, -0.9, -0.7, -0.45, -0.2, 0.05, 0.25]),
    (79, [-2.95, -2.7, -2.2, -1.95, -1.75, -1.55, -1.4, -1.2, -1.05, -0.85, -0.7, -0.5, -0.3, -0.15,
          0.05, 0.2, 0.45, 0.75, 1.0]),
    (77, [-2.65, -2.4, -2.0, -1.8, -1.6, -1.45, -1.25, -1.05, -0.85, -0.7, -0.45, -0.25, -0.1, 0.15,
          0.4, 0.55, 1.0]),
    (74, [-2.95, -2.5, -2.35, -2.05, -1.85, -1.7, -1.5, -1.35, -1.15, -1.0, -0.8, -0.6, -0.4, -0.2,
          0.05, 0.25, 0.5, 2.65]),
    (71, [-3.0, -2.45, -2.05, -1.85, -1.5, -1.35, -1.15, -1.0, -0.6, -0.45, -0.15, 0.05, 0.4, 1.0]),
    (68, [-2.65, -2.2, -1.25, -1.05, -0.8, -0.5, -0.25, -0.1, 0.15, 0.35, 0.65]),
    (65, [-2.15, -1.7, -1.25, -1.1, -0.9, -0.6, -0.4, 0.05, 0.25]),
    (62, [-2.3, -2.2, -1.15, -0.25, 0.0, 0.4, 0.55]),
    (59, [-3.0, -0.75, -0.4, 1.0, 2.0]),
    (56, [-1.75, -1.1, -1.05, -0.95, -0.15]),
    (53, [-0.6, -0.55, -0.4, 0.45]),
    (50, [-2.8, -1.7, -1.4, -0.5, -0.4]),
    (47, [-2.0, -1.4, 0.0]),
]
I_FIT_X = [-3, -2.5, -2, -1.5, -1, -0.5, 0, 0.5, 1, 1.5, 2, 2.5, 3]
I_FIT = [87.0, 87.3, 87.6, 88.1, 88.8, 89.2, 88.5, 89.4, 90.3, 90.7, 90.8, 90.2, 89.2]
I_LO = [79.8, 84.0, 85.3, 86.2, 87.0, 87.4, 86.6, 87.4, 87.7, 86.9, 84.3, 80.2, 75.0]
I_HI = [94.2, 90.6, 89.9, 90.0, 90.6, 91.0, 90.4, 91.4, 92.9, 94.5, 97.3, 100.3, 103.2]

TITLES = [
    'A: BSID-III Cognitive Score by Linear Growth',
    'B: BSID-III Motor Score by Linear Growth',
    'C: BSID-III Language Score by Linear Growth',
    'D: BSID-III Cognitive Score by Weight Growth',
    'E: BSID-III Motor Score by Weight Growth',
    'F: BSID-III Language Score by Weight Growth',
    'G: BSID-III Cognitive Score by OFC Growth',
    'H: BSID-III Motor Score by OFC Growth',
    'I: BSID-III Language Score by OFC Growth',
]
XLABELS = ['Length Z-Score Change from Birth to Discharge',
           'Weight Z-Score Change from Birth to Discharge',
           'OFC Z-Score Change from Birth to Discharge']
YLABELS = ['BSID-III Cognitive Score', 'BSID-III Motor Score', 'BSID-III Language Score']
YTICKS = [[75, 100, 125], [60, 80, 100, 120, 140], [50, 75, 100, 125]]
YMINOR = [[62.5, 87.5, 112.5, 137.5], [50, 70, 90, 110, 130], [62.5, 87.5, 112.5, 137.5]]
YLIMS = [(50.5, 149.5), (41.35, 143.65), (42.3, 145.7)]

PANELS = [
    (A_ROWS, A_FIT_X, A_FIT, A_LO, A_HI), (B_ROWS, B_FIT_X, B_FIT, B_LO, B_HI),
    (C_ROWS, C_FIT_X, C_FIT, C_LO, C_HI), (D_ROWS, D_FIT_X, D_FIT, D_LO, D_HI),
    (E_ROWS, E_FIT_X, E_FIT, E_LO, E_HI), (F_ROWS, F_FIT_X, F_FIT, F_LO, F_HI),
    (G_ROWS, G_FIT_X, G_FIT, G_LO, G_HI), (H_ROWS, H_FIT_X, H_FIT, H_LO, H_HI),
    (I_ROWS, I_FIT_X, I_FIT, I_LO, I_HI),
]

W, H = 685, 716
fig = plt.figure(figsize=(W / 100, H / 100), dpi=100)

# panel boxes in pixels
COL_X = [25, 260, 496]
COL_W = 185
YLAB_OFF = [20, 21, 23]
ROW_TOP = [11, 257, 505]
ROW_H = 191
TXT = 6.0


def px(x, y):
    return x / W, 1 - y / H


for k, (rows, fx, fit, lo, hi) in enumerate(PANELS):
    r, c = divmod(k, 3)
    x0, top = COL_X[c], ROW_TOP[r]
    ax = fig.add_axes([x0 / W, 1 - (top + ROW_H) / H, COL_W / W, ROW_H / H])
    ax.set_facecolor('#EBEBEB')
    for s in ax.spines.values():
        s.set_visible(False)

    xs = [x for score, vals in rows for x in vals]
    ys = [score for score, vals in rows for x in vals]
    ax.scatter(xs, ys, s=4, color='#555555', linewidths=0, zorder=3)
    ax.fill_between(fx, lo, hi, color='#999999', alpha=0.45, linewidth=0, zorder=4)
    ax.plot(fx, fit, color='black', lw=1.1, zorder=5)

    ax.set_xlim(-3.3, 3.3)
    ax.set_ylim(*YLIMS[c])
    ax.set_xticks([-2, 0, 2])
    ax.set_xticks([-3, -1, 1, 3], minor=True)
    ax.set_yticks(YTICKS[c])
    ax.set_yticks(YMINOR[c], minor=True)
    ax.grid(which='major', color='white', lw=0.8)
    ax.grid(which='minor', color='white', lw=0.4)
    ax.set_axisbelow(True)
    ax.tick_params(which='minor', length=0)
    ax.tick_params(which='major', length=1.6, width=0.6, color='#333333',
                   labelsize=5.2, labelcolor='#4D4D4D', pad=0.8)
    for lbl in ax.get_xticklabels() + ax.get_yticklabels():
        lbl.set_fontweight('bold')

    bottom = top + ROW_H
    fig.text(*px(x0, top - 6), TITLES[k], fontsize=TXT, fontweight='bold',
             ha='left', va='center')
    fig.text(*px(x0 + COL_W / 2, bottom + 13), XLABELS[r], fontsize=TXT, fontweight='bold',
             ha='center', va='center')
    fig.text(*px(x0 - YLAB_OFF[c], top + ROW_H / 2), YLABELS[c], fontsize=TXT,
             fontweight='bold', rotation=90, ha='center', va='center')

fig.savefig('out.png', dpi=100, facecolor='white')
